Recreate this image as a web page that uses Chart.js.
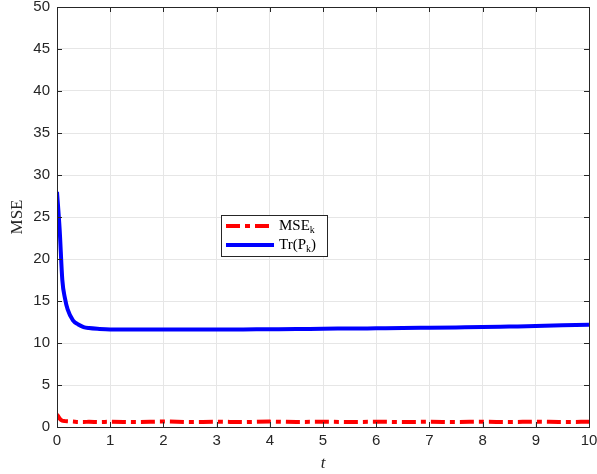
<!DOCTYPE html>
<html><head><meta charset="utf-8">
<script src="https://cdn.jsdelivr.net/npm/chart.js@4"></script>
<style>html,body{margin:0;padding:0;background:#fff;}#wrap{width:597px;height:474px;}</style>
</head><body><div id="wrap"><canvas id="c" width="597" height="474"></canvas></div>
<script>
const tValues = [0, 0.05, 0.1, 0.15, 0.2, 0.3, 0.4, 0.5, 0.6, 0.8, 1, 1.5, 2, 2.5, 3, 3.5, 4, 4.5, 5, 5.5, 6, 6.5, 7, 7.5, 8, 8.5, 9, 9.5, 10];
const trP = [28, 23.5, 17.5, 15.3, 14, 12.7, 12.2, 11.9, 11.78, 11.68, 11.62, 11.6, 11.6, 11.62, 11.6, 11.62, 11.64, 11.66, 11.7, 11.72, 11.75, 11.78, 11.82, 11.86, 11.9, 11.96, 12.02, 12.1, 12.18];
const mse = [1.5, 1.0, 0.75, 0.7, 0.68, 0.65, 0.6, 0.6, 0.62, 0.6, 0.62, 0.6, 0.65, 0.6, 0.62, 0.6, 0.64, 0.6, 0.62, 0.6, 0.62, 0.6, 0.62, 0.6, 0.62, 0.6, 0.64, 0.6, 0.62];
const xTicks = [0,1,2,3,4,5,6,7,8,9,10];
const yTicks = [0,5,10,15,20,25,30,35,40,45,50];
const seriesLabels = [['MSE','k',''], ['Tr(P','k',')']];

const toXY = (arr) => arr.map((v,i)=>({x:tValues[i], y:v}));

const framePlugin = {
  id:'frame',
  afterDatasetsDraw(chart){
    const {ctx, chartArea:a, scales} = chart;
    ctx.save();
    ctx.strokeStyle = '#262626'; ctx.lineWidth = 1;
    ctx.strokeRect(a.left+0.5, a.top+0.5, a.right-a.left, a.bottom-a.top);
    ctx.beginPath();
    xTicks.forEach(v=>{const x=Math.round(scales.x.getPixelForValue(v))+0.5;
      ctx.moveTo(x,a.bottom); ctx.lineTo(x,a.bottom-5); ctx.moveTo(x,a.top); ctx.lineTo(x,a.top+5);});
    yTicks.forEach(v=>{const y=Math.round(scales.y.getPixelForValue(v))+0.5;
      ctx.moveTo(a.left,y); ctx.lineTo(a.left+5,y); ctx.moveTo(a.right,y); ctx.lineTo(a.right-5,y);});
    ctx.stroke();
    // legend
    const bx = 221, by = 215, bw = 106, bh = 41;
    ctx.fillStyle='#fff'; ctx.fillRect(bx,by,bw,bh);
    ctx.strokeStyle='#262626'; ctx.lineWidth=1; ctx.strokeRect(bx+0.5,by+0.5,bw,bh);
    chart.data.datasets.forEach((ds,i)=>{
      const y = by + 11 + i*19;
      ctx.strokeStyle = ds.borderColor; ctx.lineWidth = ds.borderWidth;
      ctx.setLineDash(ds.borderDash||[]);
      ctx.beginPath(); ctx.moveTo(bx+5,y); ctx.lineTo(bx+53,y); ctx.stroke();
      ctx.setLineDash([]);
      const [a1,sub,a2] = seriesLabels[i];
      ctx.fillStyle='#000'; ctx.textBaseline='middle'; ctx.textAlign='left';
      ctx.font = '15px "Liberation Serif"';
      let x = bx+58;
      ctx.fillText(a1,x,y); x += ctx.measureText(a1).width;
      ctx.font = '10px "Liberation Serif"';
      ctx.fillText(sub,x,y+4); x += ctx.measureText(sub).width;
      ctx.font = '15px "Liberation Serif"';
      ctx.fillText(a2,x,y);
    });
    ctx.restore();
  }
};

new Chart(document.getElementById('c'), {
  type:'line',
  data:{datasets:[
    {label:'MSE_k', data:toXY(mse), borderColor:'#ff0000', borderWidth:4, borderDash:[14,5,5,5], pointRadius:0, cubicInterpolationMode:'monotone', fill:false},
    {label:'Tr(P_k)', data:toXY(trP), borderColor:'#0000ff', borderWidth:4, pointRadius:0, cubicInterpolationMode:'monotone', fill:false}
  ]},
  options:{
    responsive:false, animation:false, maintainAspectRatio:false,
    layout:{padding:{left:0,right:8,top:7,bottom:0}},
    plugins:{legend:{display:false}, tooltip:{enabled:false}},
    scales:{
      x:{type:'linear', min:0, max:10,
        afterBuildTicks(s){s.ticks = xTicks.map(v=>({value:v}));},
        afterFit(s){s.height = 47; s.paddingLeft = 0; s.paddingRight = 0;},
        grid:{color:'#e6e6e6', drawTicks:false},
        border:{display:false},
        ticks:{color:'#262626', font:{family:'"Liberation Sans"', size:15}, padding:5, maxRotation:0},
        title:{display:true, text:'t', color:'#262626', font:{family:'"Liberation Serif"', size:17, style:'italic'}, padding:{top:0,bottom:0}}
      },
      y:{min:0, max:50,
        afterBuildTicks(s){s.ticks = yTicks.map(v=>({value:v}));},
        afterFit(s){s.width = 57; s.paddingTop = 0; s.paddingBottom = 0;},
        grid:{color:'#e6e6e6', drawTicks:false},
        border:{display:false},
        ticks:{color:'#262626', font:{family:'"Liberation Sans"', size:15}, padding:7},
        title:{display:true, text:'MSE', color:'#262626', font:{family:'"Liberation Serif"', size:17}, padding:{top:7,bottom:0}}
      }
    }
  },
  plugins:[framePlugin]
});
</script></body></html>
